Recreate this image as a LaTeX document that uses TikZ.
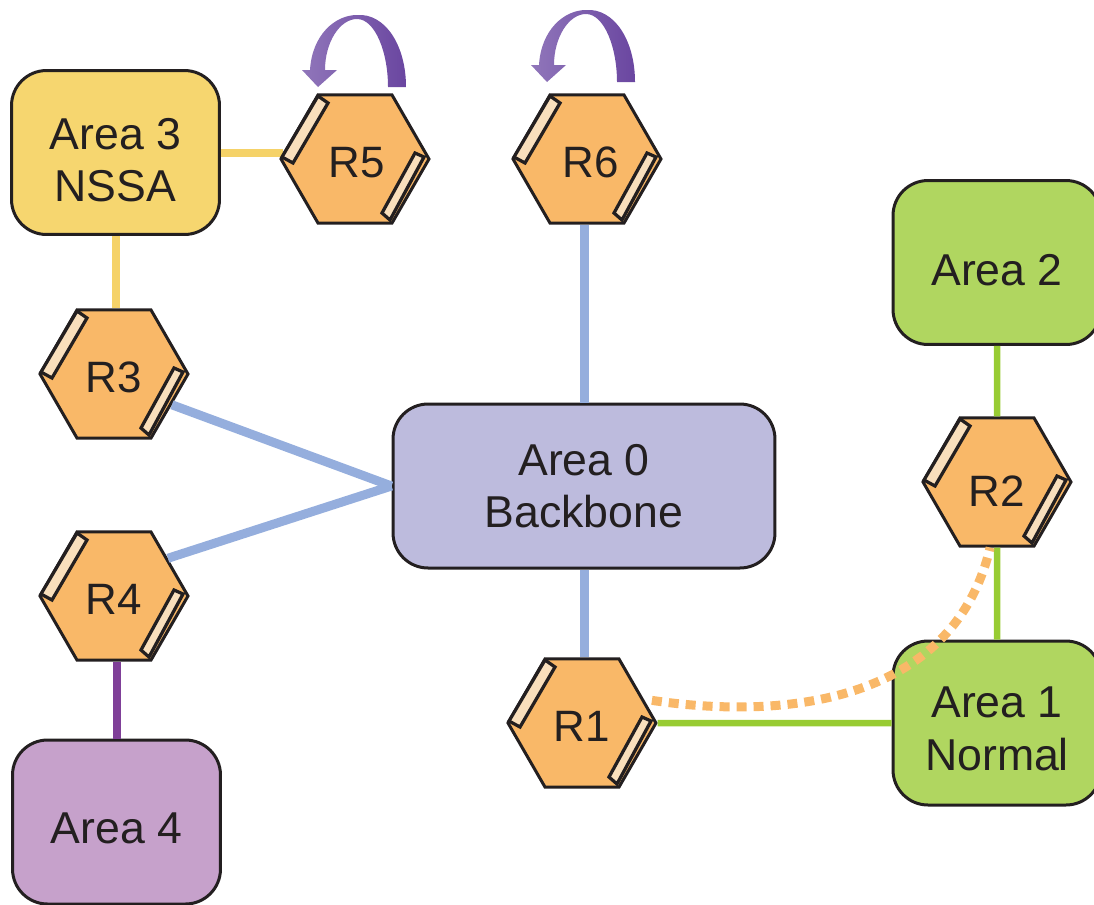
\documentclass[tikz,border=0pt]{standalone}
\usepackage{fontspec}
\setmainfont{Liberation Sans}
\usetikzlibrary{shapes.geometric}
\definecolor{inkdark}{HTML}{231F20}
\definecolor{routerfill}{HTML}{F9B868}
\definecolor{slatfill}{HTML}{F9DFBC}
\definecolor{backbonefill}{HTML}{BDBBDD}
\definecolor{nssafill}{HTML}{F6D66F}
\definecolor{normalfill}{HTML}{B0D660}
\definecolor{stubfill}{HTML}{C6A1CB}
\definecolor{blueline}{HTML}{95AEDD}
\definecolor{yellowline}{HTML}{F5D268}
\definecolor{greenline}{HTML}{98CC33}
\definecolor{purpleline}{HTML}{7F3F98}
\definecolor{loopdark}{HTML}{6A46A0}
\definecolor{looplight}{HTML}{9076BA}
\tikzset{
    area/.style={draw=inkdark, line width=0.06cm, rounded corners=0.7cm, inner sep=0pt,
            minimum width=4.16cm, minimum height=3.28cm},
    arealabel/.style={align=center, text=inkdark, inner sep=0pt,
            font=\fontsize{25.4}{30}\selectfont},
    router/.style={regular polygon, regular polygon sides=6,
            draw=inkdark, line width=0.06cm, fill=routerfill, minimum size=2.96cm, inner sep=0pt,
            text=inkdark, text height=0.74cm, text depth=0pt, font=\fontsize{25}{30}\selectfont},
    slat/.style={draw=inkdark, line width=0.065cm, fill=slatfill},
    link/.style={line width=#1},
    link/.default=0.16cm
}
\begin{document}
\begin{tikzpicture}[x=0.02cm, y=-0.02cm]
        \useasboundingbox (0,0) rectangle (1094,904);
        % areas
        \node[area, fill=nssafill, label={[arealabel, yshift=-0.15cm]center:Area 3\\NSSA}] (area3) at (115.5,152.5) {};
        \node[area, fill=normalfill, label={[arealabel, yshift=-0.15cm]center:Area 2}] (area2) at (997,262.5) {};
        \node[area, fill=backbonefill, minimum width=7.64cm, label={[arealabel]center:Area 0\\Backbone}] (area0) at (584,486) {};
        \node[area, fill=normalfill, label={[arealabel, yshift=-0.11cm]center:Area 1\\Normal}] (area1) at (997,723) {};
        \node[area, fill=stubfill, label={[arealabel, yshift=-0.12cm]center:Area 4}] (area4) at (116.5,822) {};
        % routers
        \node[router] (R1) at (582,723) {R1};
        \node[router, text height=0.98cm] (R2) at (997,482) {R2};
        \node[router] (R3) at (114,374) {R3};
        \node[router] (R4) at (114,596) {R4};
        \node[router] (R5) at (355,159) {\hspace{0.08cm}R5};
        \node[router] (R6) at (587,159) {\hspace{0.16cm}R6};
        % links
        \draw[link, yellowline] (area3.east |- R5.175) -- (R5.175);
        \draw[link, yellowline] (area3.south) -- (area3.south |- R3.north);
        \draw[link=0.18cm, blueline] (R3.-28) -- (area0.west);
        \draw[link=0.18cm, blueline] (R4.35) -- (area0.west);
        \draw[link=0.18cm, blueline] (area0.north) -- (area0.north |- R6.south);
        \draw[link=0.18cm, blueline] (area0.south) -- (area0.south |- R1.north);
        \draw[link, purpleline] (area4.north) -- (area4.north |- R4.south);
        \draw[link=0.13cm, greenline] (R2.north) -- (area2.south);
        \draw[link=0.13cm, greenline] (R2.south) -- (area1.north);
        \draw[link=0.13cm, greenline] (R1.east) -- (area1.west);
        \draw[link=0.18cm, routerfill, dash pattern=on 0.2cm off 0.14cm, shorten <=0.16cm]
            (R1.21) .. controls (800,722) and (955,695) .. (R2.-96);
        % slats on the routers
        \foreach \name in {R1,R2,R3,R4,R5,R6} {
                \draw[slat, shift={(\name)}] (-37,-63) -- (-27,-56) -- (-62,4) -- (-73,-2) -- cycle;
                \draw[slat, shift={(\name)}] (69,-2) -- (60,-6) -- (27,54) -- (35,61) -- cycle;
            }
        % loops over R5 and R6
        \foreach \dx/\dy in {0/0,229/-5} {
                \path[left color=looplight, right color=loopdark, shift={(\dx,\dy)}]
                    (388,87) .. controls (388,52) and (375,19) .. (357,19)
                    .. controls (340,19) and (325,42) .. (325,70)
                    -- (337,70) -- (318,87) -- (302,70) -- (310,70)
                    .. controls (312,35) and (335,15) .. (357,15)
                    .. controls (385,13) and (406,45) .. (406,87) -- cycle;
            }
    \end{tikzpicture}
\end{document}
